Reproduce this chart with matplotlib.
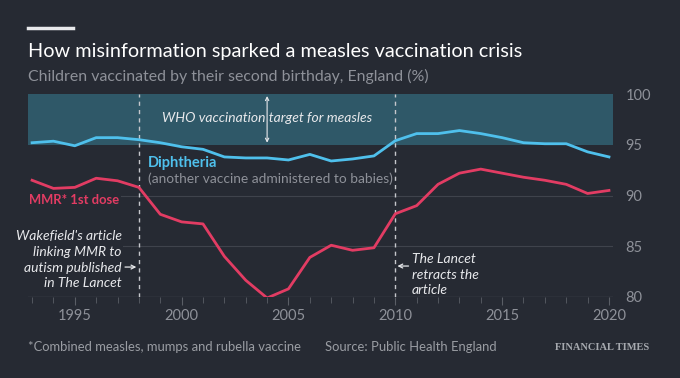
import matplotlib
matplotlib.use("Agg")
import matplotlib.pyplot as plt
from matplotlib.ticker import MultipleLocator

# data
years = list(range(1993, 2021))
diphtheria = [95.2, 95.35, 94.9, 95.7, 95.7, 95.5, 95.2, 94.8, 94.55, 93.8,
              93.7, 93.7, 93.5, 94.05, 93.4, 93.6, 93.9, 95.4, 96.1, 96.1,
              96.4, 96.1, 95.7, 95.2, 95.1, 95.1, 94.3, 93.8]
mmr = [91.5, 90.7, 90.8, 91.7, 91.45, 90.8, 88.15, 87.4, 87.2, 84.0,
       81.65, 79.9, 80.8, 83.9, 85.1, 84.6, 84.85, 88.2, 89.0, 91.1,
       92.2, 92.6, 92.2, 91.8, 91.5, 91.1, 90.2, 90.5]
y_ticks = [80, 85, 90, 95, 100]
x_ticks = [1995, 2000, 2005, 2010, 2015, 2020]
who_target = (95, 100)
events = [1998, 2010]

BG = "#262a33"
BAND = "#2f5868"
BLUE = "#4fc0ec"
RED = "#e23c63"
GREY = "#8e9199"
LIGHT = "#e8e9ec"
plt.rcParams["font.family"] = ["Lato", "DejaVu Sans"]

fig = plt.figure(figsize=(6.8, 3.78), dpi=100, facecolor=BG)
ax = fig.add_axes([0.0412, 0.2143, 0.8603, 0.537])
ax.set_facecolor(BG)

ax.axhspan(*who_target, color=BAND, lw=0, zorder=0)
for v in [85, 90]:
    ax.axhline(v, color="#3f434c", lw=0.8, zorder=1)
ax.axhline(80, color="#5a5e66", lw=0.9, zorder=1)

for yr in events:
    ax.plot([yr, yr], [80, 100], color="#c5c7cc", lw=1, ls=(0, (3, 3)), zorder=2)

ax.plot(years, diphtheria, color=BLUE, lw=2, zorder=3, solid_joinstyle="round")
ax.plot(years, mmr, color=RED, lw=2, zorder=3, solid_joinstyle="round")

ax.set_xlim(1992.81, 2020.19)
ax.set_ylim(80, 100)
for s in ax.spines.values():
    s.set_visible(False)
ax.yaxis.tick_right()
ax.set_yticks(y_ticks)
ax.tick_params(axis="y", length=0, pad=9, labelcolor=GREY, labelsize=10.5)
ax.set_xticks(x_ticks)
ax.xaxis.set_minor_locator(MultipleLocator(1))
ax.tick_params(axis="x", which="major", length=6, color="#5a5e66", pad=3,
               labelcolor=GREY, labelsize=10.5)
ax.tick_params(axis="x", which="minor", length=4, color="#5a5e66")

# annotations
arrow = dict(arrowstyle="->", color=LIGHT, lw=0.9, mutation_scale=7,
             shrinkA=0, shrinkB=0)
ax.annotate("", xy=(2004.0, 99.8), xytext=(2004.0, 95.2),
            arrowprops=dict(arrowstyle="<->", color=LIGHT, lw=0.8,
                            mutation_scale=6, shrinkA=0, shrinkB=0), zorder=4)
ax.text(2004.0, 97.6, "WHO vaccination target for measles", color=LIGHT,
        style="italic", fontsize=10, ha="center", va="center", zorder=5)

ax.text(1998.43, 93.2, "Diphtheria", color=BLUE, fontsize=10.5,
        fontweight="bold", va="center", zorder=5)
ax.text(1998.43, 91.7, "(another vaccine administered to babies)", color=GREY,
        fontsize=9.9, va="center", zorder=5)
ax.text(1992.86, 89.53, "MMR* 1st dose", color=RED, fontsize=9.4,
        fontweight="bold", va="center", zorder=5,
        bbox=dict(facecolor=BG, edgecolor="none", pad=1.5))

ax.text(1997.2, 83.67, "Wakefield's article\nlinking MMR to\nautism published\nin The Lancet",
        color=LIGHT, style="italic", fontsize=10, ha="right", va="center",
        linespacing=1.38, zorder=5,
        bbox=dict(facecolor=BG, edgecolor="none", pad=1))
ax.annotate("", xy=(1997.88, 82.95), xytext=(1997.35, 82.95), arrowprops=arrow)

ax.text(2010.78, 82.2, "The Lancet\nretracts the\narticle", color=LIGHT,
        style="italic", fontsize=10, ha="left", va="center", linespacing=1.38,
        zorder=5)
ax.annotate("", xy=(2010.1, 83.05), xytext=(2010.62, 83.05), arrowprops=arrow)

# header and footer
fig.add_artist(plt.Line2D([0.0412, 0.1075], [0.925, 0.925], color=LIGHT, lw=2.5))
fig.text(0.0412, 0.865, "How misinformation sparked a measles vaccination crisis",
         color="white", fontsize=14.3, va="center")
fig.text(0.0412, 0.799, "Children vaccinated by their second birthday, England (%)",
         color=GREY, fontsize=11.4, va="center")
fig.text(0.0412, 0.082, "*Combined measles, mumps and rubella vaccine",
         color="#9a9da3", fontsize=9.4, va="center")
fig.text(0.478, 0.082, "Source: Public Health England",
         color="#9a9da3", fontsize=9.4, va="center")
fig.text(0.885, 0.082, "FINANCIAL TIMES", color="#a7aab0", fontsize=7.5,
         family="Liberation Serif", fontweight="bold", ha="center", va="center")

fig.savefig("out.png", dpi=100, facecolor=BG)
